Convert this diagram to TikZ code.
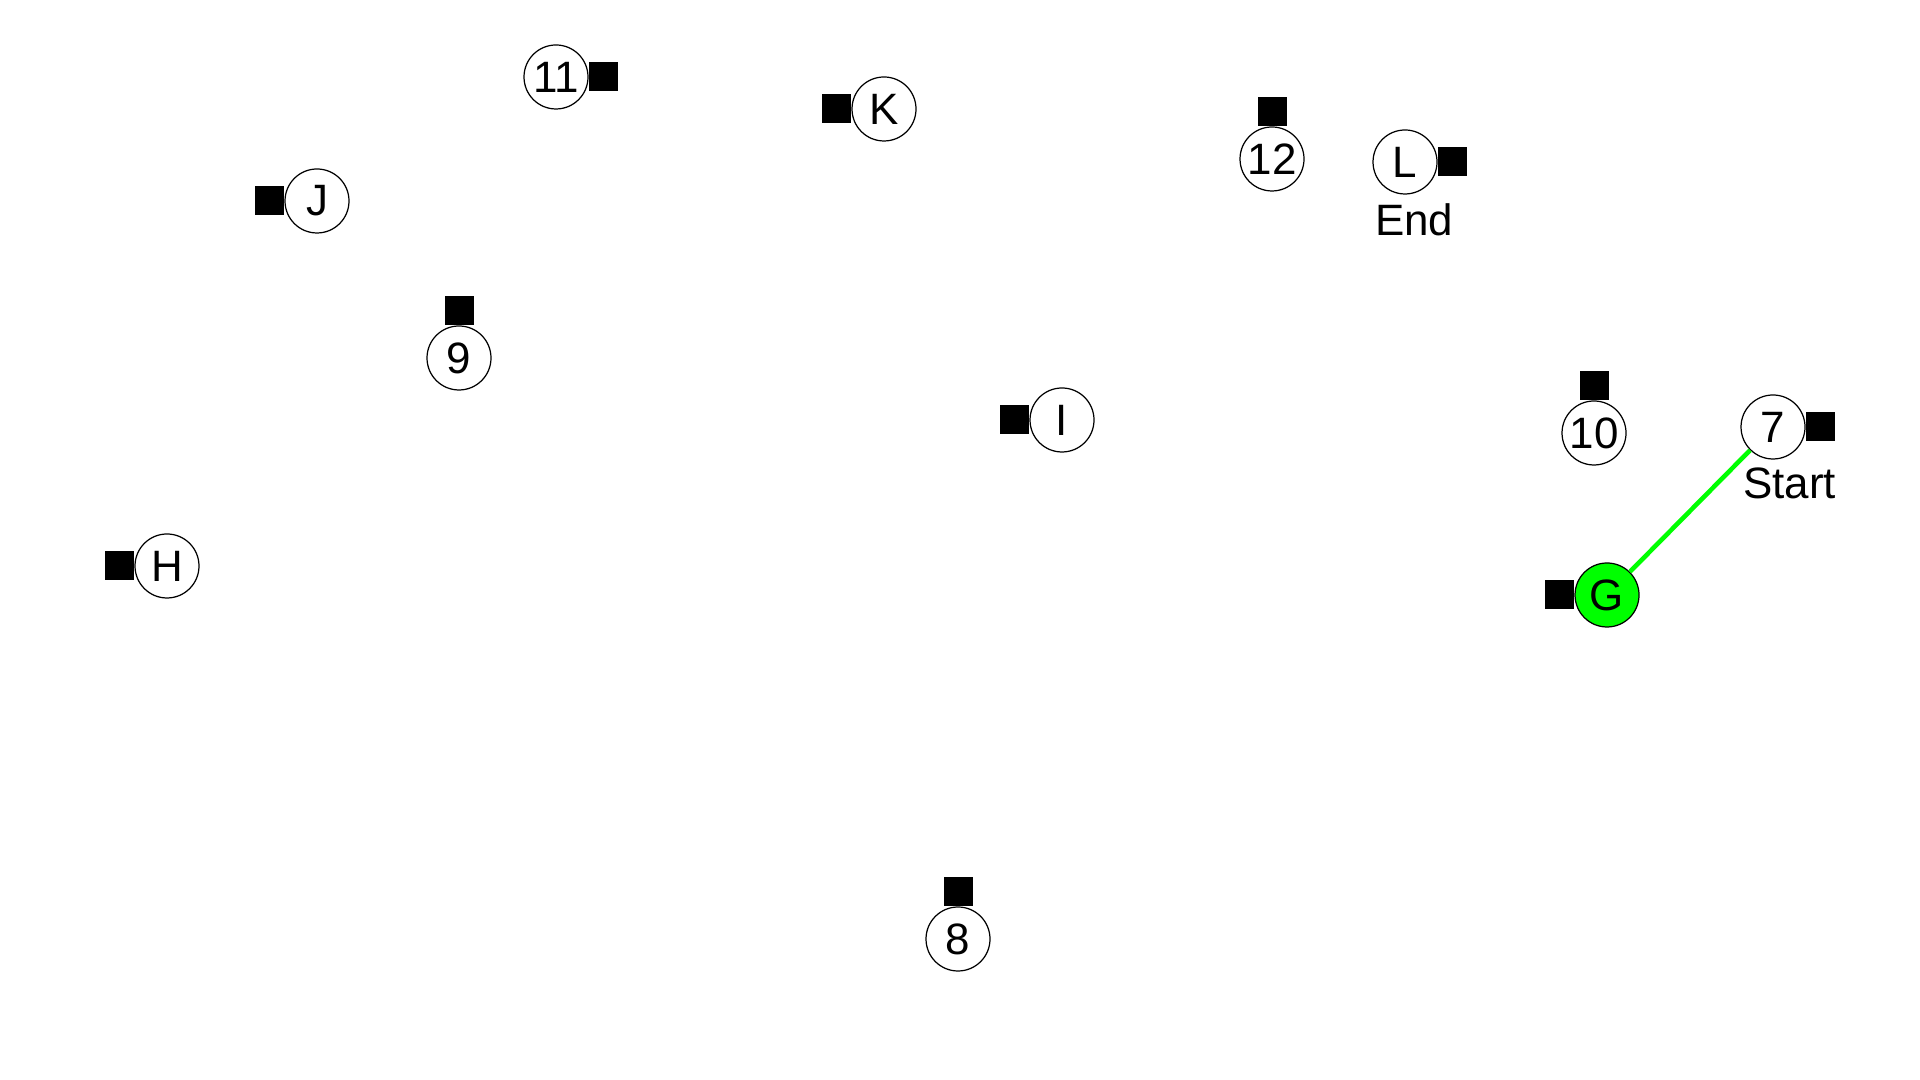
\documentclass[tikz,border=0pt]{standalone}
\usepackage{fontspec}
\setmainfont{Liberation Sans}
\usetikzlibrary{positioning}

\tikzset{
  stop/.style={draw, circle, line width=0.35pt, minimum size=0.64cm, inner sep=0pt, fill=white},
  pin/.style={fill=black, minimum size=0.29cm, inner sep=0pt},
  tag/.style={anchor=north west, inner sep=0pt}
}

\begin{document}
\begin{tikzpicture}[font=\fontsize{12.5}{15}\selectfont]
  \useasboundingbox (0,0) rectangle (19.2,10.8);

  % stops
  \node[stop] (s11) at (5.56,10.03) {11};
  \node[stop] (sK) at (8.84,9.71) {K};
  \node[stop] (s12) at (12.72,9.21) {12};
  \node[stop] (sL) at (14.05,9.18) {L};
  \node[stop] (sJ) at (3.17,8.79) {J};
  \node[stop] (s9) at (4.59,7.22) {9};
  \node[stop] (sI) at (10.62,6.60) {I};
  \node[stop] (s10) at (15.94,6.47) {10};
  \node[stop] (s7) at (17.73,6.53) {7};
  \node[stop] (sH) at (1.67,5.14) {H};
  \node[stop, fill=green] (sG) at (16.07,4.85) {G};
  \node[stop] (s8) at (9.58,1.41) {8};

  % little squares
  \node[pin, right=0pt of s11] (p11) {};
  \node[pin, left=0pt of sK] (pK) {};
  \node[pin, above=0pt of s12] (p12) {};
  \node[pin, right=0pt of sL] (pL) {};
  \node[pin, left=0pt of sJ] (pJ) {};
  \node[pin, above=0pt of s9] (p9) {};
  \node[pin, left=0pt of sI] (pI) {};
  \node[pin, above=0pt of s10] (p10) {};
  \node[pin, right=0pt of s7] (p7) {};
  \node[pin, left=0pt of sH] (pH) {};
  \node[pin, left=0pt of sG] (pG) {};
  \node[pin, above=0pt of s8] (p8) {};

  % route
  \draw[green, line width=1.3pt] (sG) -- (s7);

  \node[tag] (start) at ([xshift=0.02cm, yshift=-0.08cm]s7.west |- s7.south) {Start};
  \node[tag] (end) at ([xshift=0.02cm, yshift=-0.08cm]sL.west |- sL.south) {End};
\end{tikzpicture}
\end{document}
